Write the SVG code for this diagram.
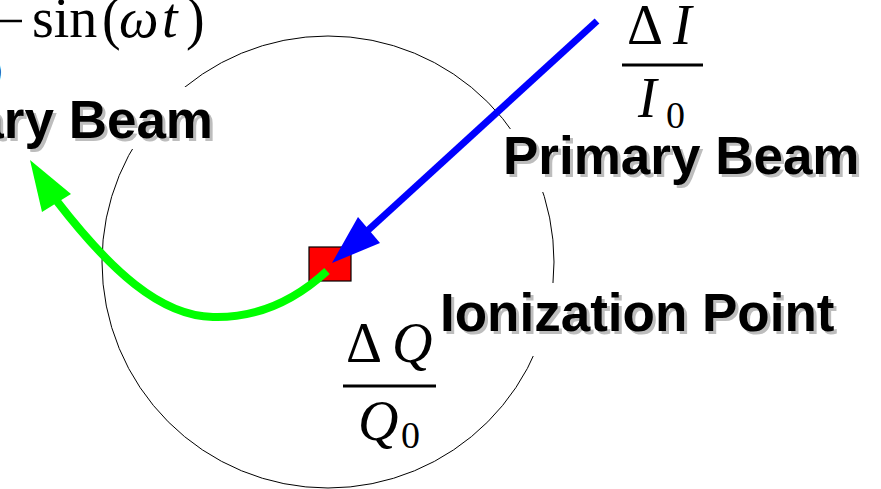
<svg xmlns="http://www.w3.org/2000/svg" width="881" height="489" viewBox="0 0 881 489">
<style>
.lbl{font-family:"Liberation Sans",Arial,sans-serif;font-weight:bold;font-size:53px;fill:#000}
.sh{fill:#bdbdbd}
.m{font-family:"Liberation Serif","Times New Roman",serif;font-size:56px;fill:#000}
.it{font-style:italic}
.sub{font-size:38px}
.box{fill:#fff}
</style>
<rect width="881" height="489" fill="#fff"/>
<circle id="circle" cx="328" cy="262" r="226" fill="none" stroke="#000" stroke-width="1"/>
<g id="formula-left">
<line x1="0" y1="21" x2="22" y2="21" stroke="#000" stroke-width="2.5"/>
<text class="m sub" x="-17" y="85">0</text>
<text class="m" x="32" y="37" font-size="49">sin</text>
<text class="m" x="102" y="38" font-size="62" transform="translate(102 38) scale(1 1.05) translate(-102 -38)">(</text>
<text class="m it" x="119" y="37">ω</text>
<text class="m it" x="162" y="37">t</text>
<text class="m" x="186" y="38" font-size="62" transform="translate(186 38) scale(1 1.05) translate(-186 -38)">)</text>
</g>
<g id="label-left">
<rect class="box" x="0" y="87" width="222" height="62"/>
<text class="lbl sh" x="216" y="141" text-anchor="end">ary Beam</text>
<text class="lbl" x="213" y="138" text-anchor="end">ary Beam</text>
</g>
<g id="label-right">
<rect class="box" x="500" y="129" width="375" height="63"/>
<text class="lbl sh" x="506" y="177">Primary Beam</text>
<text class="lbl" x="503" y="174">Primary Beam</text>
</g>
<g id="label-ion">
<rect class="box" x="436" y="283" width="410" height="73"/>
<text class="lbl sh" x="443" y="334">Ionization Point</text>
<text class="lbl" x="440" y="331">Ionization Point</text>
</g>
<g id="formula-dI">
<text class="m" x="627" y="44">Δ</text>
<text class="m it" x="673" y="44">I</text>
<line x1="622" y1="65" x2="703" y2="65" stroke="#000" stroke-width="3"/>
<text class="m it" x="638" y="117">I</text>
<text class="m sub" x="666" y="128">0</text>
</g>
<g id="formula-dQ">
<text class="m" x="346" y="362">Δ</text>
<text class="m it" x="392" y="362">Q</text>
<line x1="343" y1="386" x2="436" y2="386" stroke="#000" stroke-width="3"/>
<text class="m it" x="358" y="440">Q</text>
<text class="m sub" x="401" y="448">0</text>
</g>
<g id="ionization-point">
<rect x="309" y="247" width="42" height="34" fill="#f00" stroke="#000" stroke-width="1.2"/>
</g>
<g id="connectors">
<line x1="597" y1="21" x2="365" y2="233" stroke="#00f" stroke-width="7"/>
<polygon points="332,263 358,217 380,243" fill="#00f"/>
<path d="M327 271 C290 305 250 318 213 317 C160 316 110 270 56 200" fill="none" stroke="#0f0" stroke-width="8"/>
<polygon points="30,160 42,212 71,194" fill="#0f0"/>
</g>
</svg>
